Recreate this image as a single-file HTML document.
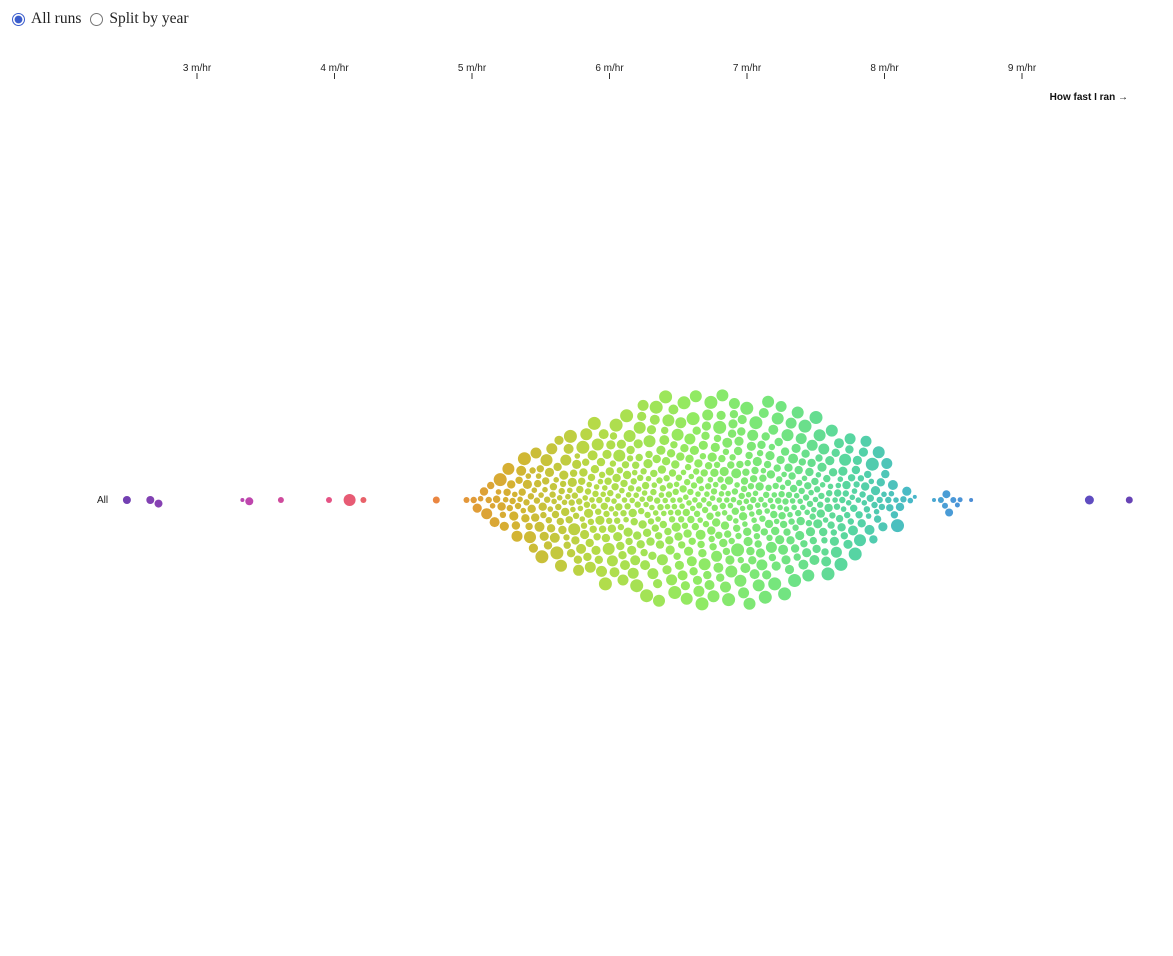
<!DOCTYPE html>
<html><head><meta charset="utf-8">
<style>
body{margin:0;background:#fff;width:1173px;height:956px;overflow:hidden;position:relative}
.radios{position:absolute;left:11px;top:10px;font-family:"Liberation Serif",serif;font-size:15.5px;color:#222;display:flex;align-items:center}
.radios label{display:flex;align-items:center;margin-right:8px}
.radios input{margin:0 6px 0 1px;width:13px;height:13px;accent-color:#3a5ccc}
svg{position:absolute;left:0;top:0}
</style></head><body>
<div class="radios">
<label><input type="radio" name="v" checked>All runs</label>
<label><input type="radio" name="v">Split by year</label>
</div>
<svg id="chart" width="1173" height="956"></svg>
<script>
const tickValues=[3,4,5,6,7,8,9];
const outlierSpeeds=[2.49,2.66,2.72,3.33,3.38,3.61,3.96,4.11,4.21,4.74,4.96,8.22,8.36,8.41,8.44,8.45,8.47,8.5,8.53,8.55,8.63,9.49,9.78];
const outlierRadii=[4,4,4,2,4,3,3,6,3,3.5,3,2,2,3,3,4,4,3,2.5,2.5,2,4.5,3.5];
const binStarts=[5.0,5.1,5.2,5.3,5.4,5.5,5.6,5.7,5.8,5.9,6.0,6.1,6.2,6.3,6.4,6.5,6.6,6.7,6.8,6.9,7.0,7.1,7.2,7.3,7.4,7.5,7.6,7.7,7.8,7.9,8.0,8.1];
const binCounts=[4,7,10,13,16,18,20,22,24,25,26,27,28,29,30,30,31,31,31,30,30,29,28,27,25,23,21,19,16,13,9,4];
const radiusPattern=[3.2,4.6,2.8,4.2,5.5,3.2,3.7,2.8,5,3.7,2.8,6.5,4.2,3.2,4.6,2.8,3.7,6,3.2,4.2];
const colorStops=[[2.4,"#6b3fb2"],[3.3,"#b845b2"],[3.9,"#e4508a"],[4.2,"#e8606a"],[4.8,"#ea8a3c"],[5.3,"#d4b232"],[5.9,"#b5db48"],[6.6,"#92ea62"],[7.2,"#76e67c"],[7.8,"#55d4a4"],[8.2,"#48b8c8"],[8.5,"#4a98d8"],[9.3,"#5a52c8"],[9.9,"#6a3fb0"]];

const NS="http://www.w3.org/2000/svg";
const svg=document.getElementById('chart');
const x=v=>197+(v-3)*137.5;
const cy=500;
function hex(c){return [1,3,5].map(i=>parseInt(c.substr(i,2),16));}
function color(v){
  if(v<=colorStops[0][0])return colorStops[0][1];
  for(let i=1;i<colorStops.length;i++){
    if(v<=colorStops[i][0]){
      const [a,ca]=colorStops[i-1],[b,cb]=colorStops[i];
      const t=(v-a)/(b-a),A=hex(ca),B=hex(cb);
      return 'rgb('+A.map((q,k)=>Math.round(q+(B[k]-q)*t)).join(',')+')';
    }
  }
  return colorStops[colorStops.length-1][1];
}
function mk(tag,attrs){const e=document.createElementNS(NS,tag);for(const k in attrs)e.setAttribute(k,attrs[k]);svg.appendChild(e);return e;}
tickValues.forEach(v=>{
  const t=mk('text',{x:x(v),y:71,'text-anchor':'middle','font-family':'Liberation Sans, sans-serif','font-size':10,fill:'#222'});
  t.textContent=v+' m/hr';
  
  
  const l=mk('line',{x1:x(v),x2:x(v),y1:73,y2:79,stroke:'#333','stroke-width':1});
  
  
});
const at=mk('text',{x:1128,y:100,'text-anchor':'end','font-family':'Liberation Sans, sans-serif','font-size':10,'font-weight':'bold',fill:'#111'});
at.textContent='How fast I ran →';


const al=mk('text',{x:97,y:503,'font-family':'Liberation Sans, sans-serif','font-size':10,fill:'#222'});
al.textContent='All';


const nodes=[];
outlierSpeeds.forEach((v,i)=>nodes.push({v,r:outlierRadii[i]}));
let p=0;
binStarts.forEach((b,i)=>{const n=binCounts[i];for(let j=0;j<n;j++){nodes.push({v:b+(j+0.5)/n*0.1,r:radiusPattern[p%radiusPattern.length]});p++;}});
nodes.forEach(n=>n.x=x(n.v));
nodes.sort((a,b)=>a.x-b.x);
const placed=[];const pad=1;
nodes.forEach(n=>{
  const near=placed.filter(q=>Math.abs(q.x-n.x)<q.r+n.r+pad);
  const cands=[0];
  near.forEach(q=>{const d=q.r+n.r+pad,dx=q.x-n.x,h=Math.sqrt(d*d-dx*dx);cands.push(q.y+h,q.y-h);});
  cands.sort((a,b)=>Math.abs(a)-Math.abs(b));
  for(const c of cands){
    if(near.every(q=>{const d=q.r+n.r+pad-0.01;return (q.x-n.x)**2+(q.y-c)**2>=d*d;})){n.y=c;break;}
  }
  placed.push(n);
});
placed.forEach(n=>{
  const c=mk('circle',{cx:n.x.toFixed(1),cy:(cy+n.y).toFixed(1),r:n.r,fill:color(n.v)});
  
  
});
</script>
</body></html>
